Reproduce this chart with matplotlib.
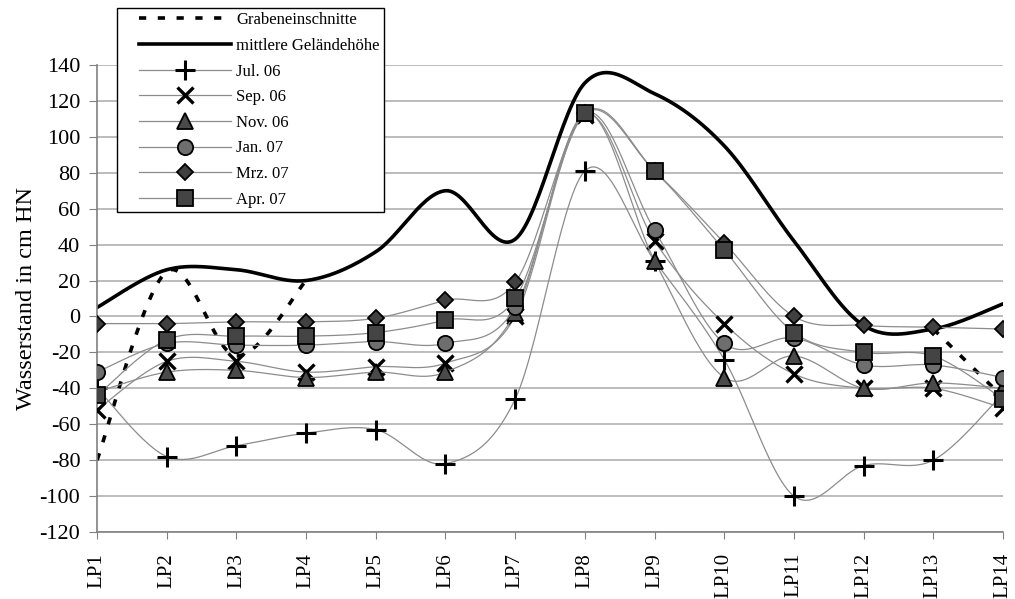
import numpy as np
import matplotlib.pyplot as plt
from matplotlib.lines import Line2D
from matplotlib.legend_handler import HandlerLine2D

plt.rcParams['font.family'] = ['Liberation Serif', 'DejaVu Serif']
plt.rcParams['axes.unicode_minus'] = False

labels = ['LP1', 'LP2', 'LP3', 'LP4', 'LP5', 'LP6', 'LP7', 'LP8', 'LP9', 'LP10',
          'LP11', 'LP12', 'LP13', 'LP14']
graben = [-80, 25, -22, 20, None, None, None, None, None, None, None, None, -7, -45]
gelaende = [5, 26, 26, 20, 36, 70, 43, 130, 124, 95, 42, -5, -7, 7]
jul06 = [-40, -78, -72, -65, -63, -82, -46, 81, 31, -24, -100, -83, -80, -43]
sep06 = [-52, -25, -25, -31, -28, -26, 0, 112, 42, -4, -32, -40, -40, -51]
nov06 = [-42, -31, -30, -34, -31, -31, 2, 113, 31, -34, -22, -40, -37, -40]
jan07 = [-31, -15, -16, -16, -14, -15, 5, 113, 48, -15, -12, -27, -27, -34]
mrz07 = [-4, -4, -3, -3, -1, 9, 19, 113, 81, 41, 0, -5, -6, -7]
apr07 = [-44, -13, -11, -11, -9, -2, 10, 113, 81, 37, -9, -20, -22, -46]
names = ['Grabeneinschnitte', 'mittlere Geländehöhe', 'Jul. 06', 'Sep. 06',
         'Nov. 06', 'Jan. 07', 'Mrz. 07', 'Apr. 07']


def smooth(xs, ys, n=30):
    # Excel-artige Glättung (Catmull-Rom als kubische Bezier)
    xs = np.asarray(xs, float)
    ys = np.asarray(ys, float)
    px, py = [], []
    m = len(xs)
    for i in range(m - 1):
        i0 = max(i - 1, 0)
        i3 = min(i + 2, m - 1)
        p0 = np.array([xs[i0], ys[i0]])
        p1 = np.array([xs[i], ys[i]])
        p2 = np.array([xs[i + 1], ys[i + 1]])
        p3 = np.array([xs[i3], ys[i3]])
        c1 = p1 + (p2 - p0) / 6
        c2 = p2 - (p3 - p1) / 6
        t = np.linspace(0, 1, n)[:, None]
        b = ((1 - t) ** 3) * p1 + 3 * (1 - t) ** 2 * t * c1 + 3 * (1 - t) * t ** 2 * c2 + t ** 3 * p2
        px.extend(b[:, 0])
        py.extend(b[:, 1])
    return np.array(px), np.array(py)


def segments(vals):
    segs, cur = [], []
    for i, v in enumerate(vals):
        if v is None:
            if cur:
                segs.append(cur)
            cur = []
        else:
            cur.append((i, v))
    if cur:
        segs.append(cur)
    return segs


class ShiftedHandler(HandlerLine2D):
    # Legendenlinie etwas eingerückt wie im Original
    def get_xdata(self, legend, xdescent, ydescent, width, height, fontsize):
        x0 = -xdescent + 0.16 * width
        x1 = -xdescent + width
        return np.array([x0, x1]), np.array([(x0 + x1) / 2])


fig = plt.figure(figsize=(10.15, 5.99), dpi=100)
ax = fig.add_axes([0.0956, 0.1119, 0.8926, 0.7796])
x = np.arange(len(labels))

for y in range(-120, 141, 20):
    ax.axhline(y, color='#b0b0b0', lw=1.2, zorder=0)

for seg in segments(graben):
    sx, sy = smooth([s[0] for s in seg], [s[1] for s in seg])
    ax.plot(sx, sy, color='black', lw=2.6, dashes=(2, 3.2), zorder=2)

gx, gy = smooth(x, gelaende)
ax.plot(gx, gy, color='black', lw=2.6, zorder=2)

series = [
    (jul06, dict(marker='+', ms=15, mew=2.2, mfc='black', mec='black')),
    (sep06, dict(marker='x', ms=12, mew=2.4, mfc='black', mec='black')),
    (nov06, dict(marker='^', ms=11, mew=1.3, mfc='#4a4a4a', mec='black')),
    (jan07, dict(marker='o', ms=11, mew=1.3, mfc='#6e6e6e', mec='black')),
    (mrz07, dict(marker='D', ms=8.5, mew=1.3, mfc='#404040', mec='black')),
    (apr07, dict(marker='s', ms=11, mew=1.3, mfc='#444444', mec='black')),
]
z = 3
for vals, st in series:
    sx, sy = smooth(x, vals)
    ax.plot(sx, sy, color='#8c8c8c', lw=0.9, zorder=z)
    ax.plot(x, vals, ls='none', zorder=z + 0.5, **st)
    z += 1

ax.set_xlim(0, 13)
ax.set_ylim(-120, 140)
ax.set_yticks(range(-120, 141, 20))
ax.set_xticks(x)
ax.set_xticklabels(labels, rotation=90, fontsize=15)
ax.tick_params(axis='y', labelsize=16, color='#808080', length=6, pad=6)
ax.tick_params(axis='x', color='#808080', length=5, pad=10)
for s in ['top', 'right']:
    ax.spines[s].set_visible(False)
for s in ['left', 'bottom']:
    ax.spines[s].set_color('#808080')
    ax.spines[s].set_linewidth(1.2)
ax.set_ylabel('Wasserstand in cm HN', fontsize=17.5)
ax.yaxis.set_label_coords(-0.066, 0.5)

handles = [
    Line2D([], [], color='black', lw=2.6, dashes=(2, 3.2)),
    Line2D([], [], color='black', lw=2.6),
]
for vals, st in series:
    handles.append(Line2D([], [], color='#8c8c8c', lw=0.9, **st))
leg = fig.legend(handles, names, loc='upper left', bbox_to_anchor=(117 / 1015, 1 - 8 / 599),
                 fontsize=12, handlelength=6.6, handletextpad=0.3, labelspacing=0.58,
                 borderpad=0.25, fancybox=False, framealpha=1, edgecolor='black',
                 borderaxespad=0, handler_map={Line2D: ShiftedHandler()})
leg.get_frame().set_linewidth(1.0)
leg.set_zorder(10)

fig.savefig('out.png', dpi=100)
